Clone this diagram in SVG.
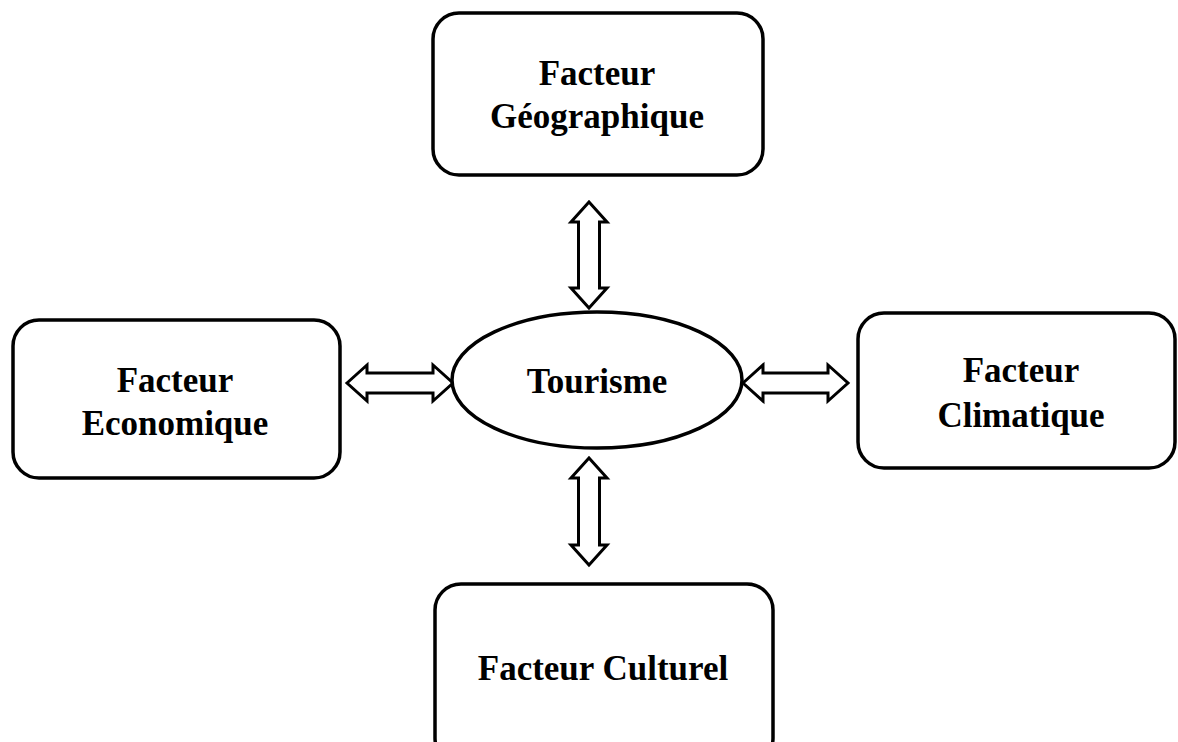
<svg xmlns="http://www.w3.org/2000/svg" width="1178" height="742" viewBox="0 0 1178 742">
<style>
.box{fill:#fff;stroke:#000;stroke-width:3.5}
.arr{fill:#fff;stroke:#000;stroke-width:3;stroke-linejoin:miter}
.t{font-family:"Liberation Serif","Times New Roman",serif;font-weight:bold;font-size:35px;fill:#000;text-anchor:middle}
</style>
<rect width="1178" height="742" fill="#fff"/>
<g id="connectors">
<polygon class="arr" points="589,202 607,222 599.5,222 599.5,288 607,288 589,308 571,288 578.5,288 578.5,222 571,222"/>
<polygon class="arr" points="589,458 607,478 599.5,478 599.5,545 607,545 589,565 571,545 578.5,545 578.5,478 571,478"/>
<polygon class="arr" points="347,383 367,365 367,373 433,373 433,365 453,383 433,401 433,393 367,393 367,401"/>
<polygon class="arr" points="743,383 763,365 763,373 828,373 828,365 848,383 828,401 828,393 763,393 763,401"/>
</g>
<g id="geographique">
<rect class="box" x="433" y="13" width="330" height="162" rx="26"/>
<text class="t" x="597" y="85">Facteur</text>
<text class="t" x="597" y="128">Géographique</text>
</g>
<g id="economique">
<rect class="box" x="13" y="320" width="327" height="158" rx="26"/>
<text class="t" x="175" y="392">Facteur</text>
<text class="t" x="175" y="435">Economique</text>
</g>
<g id="climatique">
<rect class="box" x="858" y="313" width="317" height="155" rx="26"/>
<text class="t" x="1021" y="382">Facteur</text>
<text class="t" x="1021" y="427">Climatique</text>
</g>
<g id="culturel">
<rect class="box" x="435" y="584" width="338" height="180" rx="26"/>
<text class="t" x="603" y="680">Facteur Culturel</text>
</g>
<g id="tourisme">
<ellipse class="box" cx="597" cy="380" rx="145" ry="68"/>
<text class="t" x="597" y="393">Tourisme</text>
</g>
</svg>
